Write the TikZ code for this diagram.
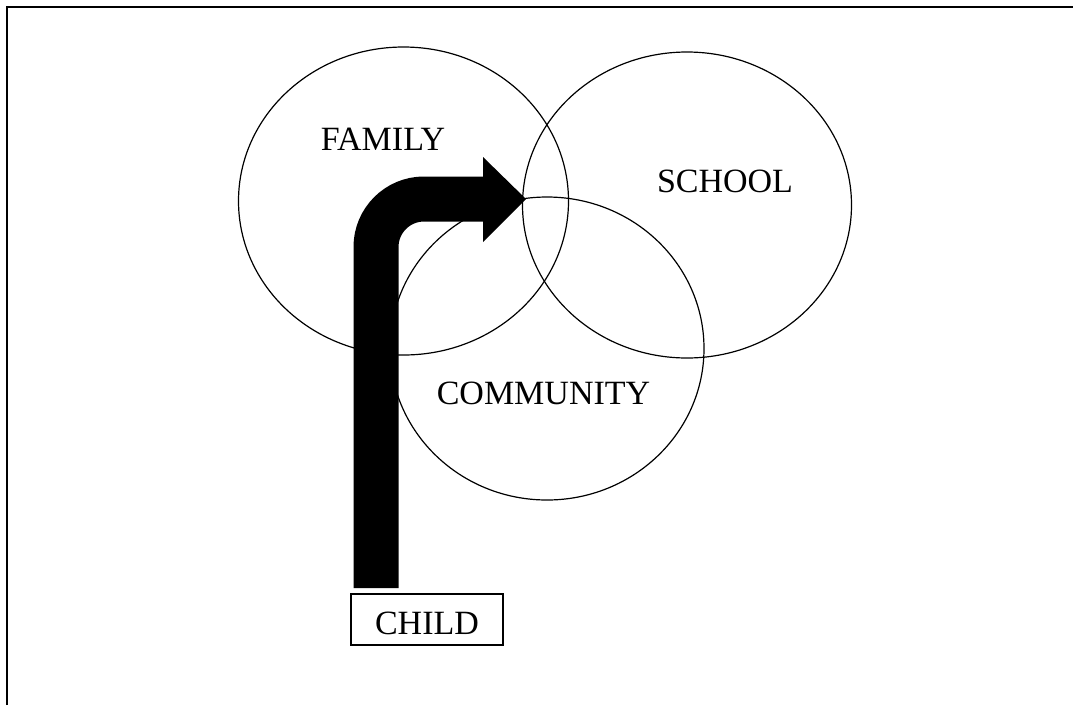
\documentclass[tikz,border=0pt]{standalone}
\usepackage{fontspec}
\setmainfont{Liberation Serif}
\begin{document}
\begin{tikzpicture}[x=1pt,y=-1pt,
  ring/.style={draw=black,line width=1.2pt},
  lbl/.style={anchor=base,inner sep=0pt,font=\fontsize{34}{40}\selectfont},
  childbox/.style={draw=black,line width=1.6pt,minimum width=152pt,minimum height=51pt,
    inner sep=0pt,text height=29pt,text depth=0pt,font=\fontsize{34}{40}\selectfont},
  bigarrow/.style={line width=45pt,rounded corners=48pt}]
\useasboundingbox (0,0) rectangle (1073,705);
% frame
\coordinate (fbl) at (7,705);
\coordinate (ftl) at (7,7);
\coordinate (ftr) at (1073,7);
\draw[line width=2pt] (fbl) -- (ftl) -- (ftr);
% circles
\draw[ring] (403.5,201) ellipse [x radius=165pt, y radius=154pt];
\draw[ring] (687,205) ellipse [x radius=164.5pt, y radius=153pt];
\draw[ring] (547,348.5) ellipse [x radius=157pt, y radius=151.5pt];
% labels
\node[lbl] (family) at (383,150) {FAMILY};
\node[lbl] (school) at (725,192) {SCHOOL};
\node[lbl] (community) at (543.5,404) {COMMUNITY};
\node[childbox] (child) at (427,619.5) {CHILD};
% arrow
\coordinate (tail) at (376,588);
\coordinate (headbase) at (484,199);
\coordinate (headtop) at (483,157);
\coordinate (headbot) at (483,242);
\coordinate (tip) at (526,199);
\draw[bigarrow] (tail) |- (headbase);
\fill (headtop) -- (tip) -- (headbot) -- cycle;
\end{tikzpicture}
\end{document}
